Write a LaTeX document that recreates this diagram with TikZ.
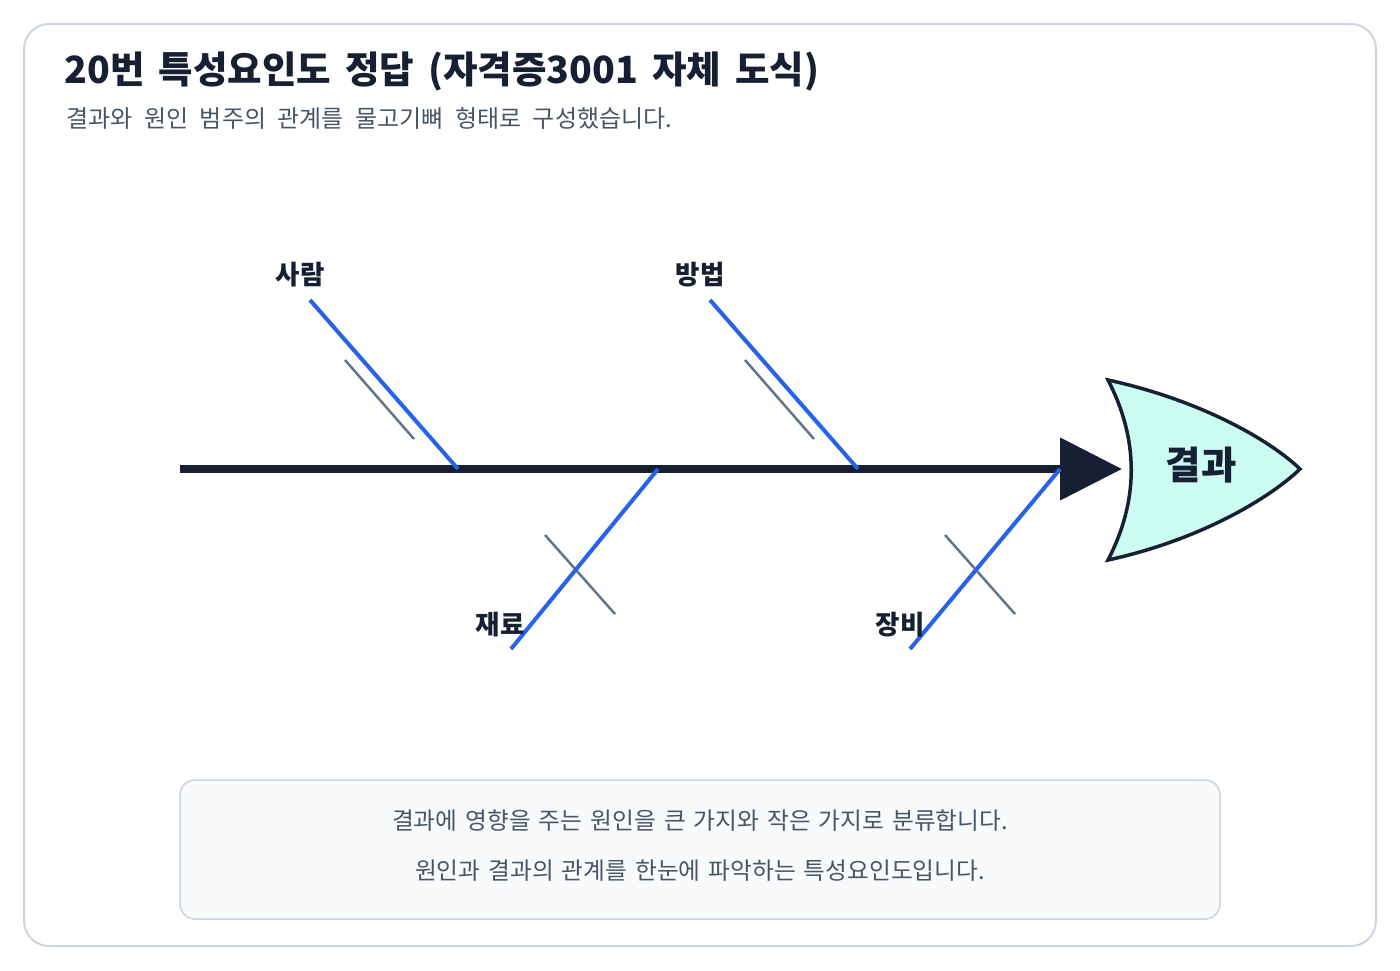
\documentclass[tikz,border=0pt]{standalone}
\usepackage{fontspec}
\setmainfont{Noto Sans CJK KR}
\usetikzlibrary{arrows.meta}
\definecolor{ink}{HTML}{172033}
\definecolor{bone}{HTML}{2563EB}
\definecolor{twig}{HTML}{64748B}
\definecolor{mint}{HTML}{CCFBF1}
\definecolor{rim}{HTML}{CBD5E1}
\definecolor{pane}{HTML}{F8FAFC}
\definecolor{note}{HTML}{475569}
\newcommand\wordgap[1]{\spaceskip #1\relax}
\begin{document}
\begin{tikzpicture}[
      x=1pt, y=-1pt,
      B/.style={draw=bone, line width=4pt},
      G/.style={draw=twig, line width=2.5pt},
      L/.style={font=\bfseries\fontsize{26.5}{30}\selectfont, text=ink},
      T/.style={font=\fontsize{23.7}{28}\selectfont\wordgap{8pt}, text=note}]
  \useasboundingbox (0,0) rectangle (1400,970);
  \draw[rim, line width=2pt, rounded corners=25pt] (24,24) rectangle (1376,946);
  \node[anchor=west, font=\bfseries\fontsize{37.5}{42}\selectfont\wordgap{14pt}, text=ink] (title) at (61,72) {20번 특성요인도 정답 (자격증3001 자체 도식)};
  \node[T, anchor=west, font=\fontsize{24}{28}\selectfont\wordgap{11.5pt}] (sub) at (63,118) {결과와 원인 범주의 관계를 물고기뼈 형태로 구성했습니다.};
  \coordinate (tail) at (180,469);
  \coordinate (tip) at (1122,469);
  \draw[ink, line width=8pt, -{Triangle[length=62pt,width=61pt]}] (tail) -- (tip);
  \draw[ink, line width=3.5pt, fill=mint] (1108,380) .. controls (1200,400) and (1270,440) .. (1300,469)
    .. controls (1270,498) and (1200,540) .. (1108,560)
    .. controls (1139,500) and (1139,440) .. cycle;
  \node[font=\bfseries\fontsize{38.5}{44}\selectfont, text=ink] (effect) at (1201,465) {결과};
  \coordinate (p1) at (310,300); \coordinate (q1) at (458,469);
  \coordinate (p2) at (710,300); \coordinate (q2) at (858,469);
  \coordinate (p3) at (511,649); \coordinate (q3) at (658,469);
  \coordinate (p4) at (910,649); \coordinate (q4) at (1060,469);
  \draw[G] (345,360) coordinate (a1) -- (414,439) coordinate (b1);
  \draw[G] (745,360) coordinate (a2) -- (814,439) coordinate (b2);
  \draw[G] (545,535) coordinate (a3) -- (615,614) coordinate (b3);
  \draw[G] (945,535) coordinate (a4) -- (1015,614) coordinate (b4);
  \draw[B] (p1) -- (q1);
  \draw[B] (p2) -- (q2);
  \draw[B] (p3) -- (q3);
  \draw[B] (p4) -- (q4);
  \node[L] (man) at (300,275) {사람};
  \node[L] (method) at (700,275) {방법};
  \node[L] (material) at (500,625) {재료};
  \node[L] (machine) at (900,625) {장비};
  \draw[rim, line width=1.5pt, fill=pane, rounded corners=15pt] (180,780) rectangle (1220,919);
  \node[T] (n1) at (700,821) {결과에 영향을 주는 원인을 큰 가지와 작은 가지로 분류합니다.};
  \node[T] (n2) at (700,871) {원인과 결과의 관계를 한눈에 파악하는 특성요인도입니다.};
\end{tikzpicture}
\end{document}
